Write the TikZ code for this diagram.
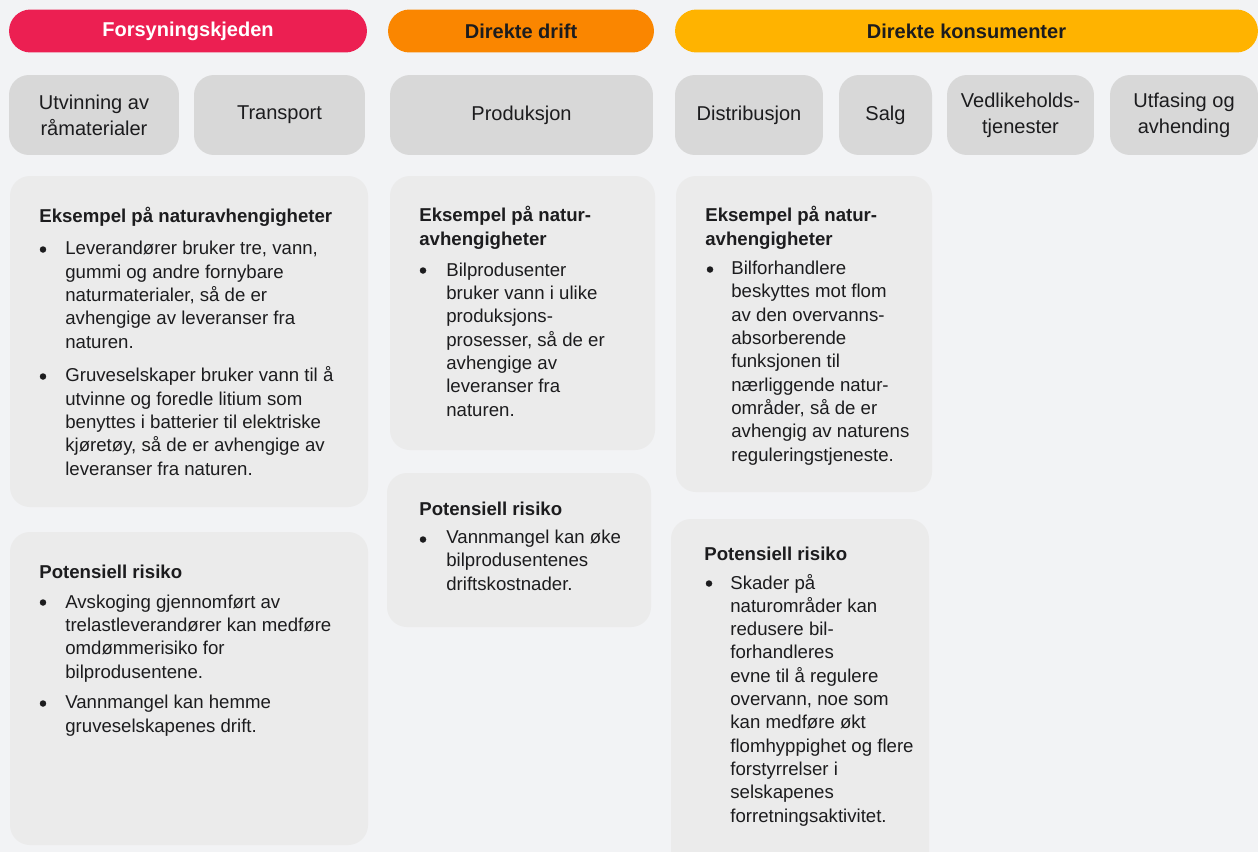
\documentclass[tikz,border=0pt]{standalone}
\usepackage{xcolor}
\usepackage{tikz}
\usepackage{fontspec}
\setmainfont{Liberation Sans}
\definecolor{kjedered}{HTML}{EC1F52}
\definecolor{driftorange}{HTML}{FA8600}
\definecolor{konsumyellow}{HTML}{FFB300}
\definecolor{pagegrey}{HTML}{F2F3F5}
\definecolor{stagegrey}{HTML}{D8D8D8}
\definecolor{boxgrey}{HTML}{EBEBEB}
\definecolor{inkdark}{HTML}{1C1C1E}
\tikzset{
  pill/.style={rounded corners=0.43cm,minimum height=0.86cm,inner sep=0pt,
    font=\bfseries\fontsize{11.4}{13}\selectfont},
  stagebox/.style={fill=stagegrey,rounded corners=0.4cm,minimum height=1.6cm,
    inner sep=0pt,align=center,text=inkdark,font=\fontsize{11.4}{14.8}\selectfont},
  infobox/.style={fill=boxgrey,rounded corners=0.4cm},
  boxtitle/.style={anchor=base west,align=left,inner sep=0pt,text=inkdark,
    font=\bfseries\fontsize{10.6}{13.26}\selectfont},
  itemtext/.style={anchor=base west,align=left,inner sep=0pt,text=inkdark,
    font=\fontsize{10.6}{13.26}\selectfont},
  itemdot/.style={circle,fill=inkdark,inner sep=0pt,minimum size=0.13cm,yshift=0.11cm}
}
\begin{document}
\begin{tikzpicture}[x=0.02cm,y=-0.02cm]
  \useasboundingbox (0,0) rectangle (1258,852);
  \fill[pagegrey] (0,0) rectangle (1258,852);

  \node[pill,fill=kjedered,text=white,minimum width=7.16cm] (forsyning) at (188,31) {Forsyningskjeden};
  \node[pill,fill=driftorange,text=inkdark,minimum width=5.32cm] (drift) at (521,31) {Direkte drift};
  \node[pill,fill=konsumyellow,text=inkdark,minimum width=11.66cm] (konsument) at (966.5,31) {Direkte konsumenter};

  \node[stagebox,minimum width=3.40cm] (utvinning) at (94,115) {Utvinning av\\råmaterialer};
  \node[stagebox,minimum width=3.42cm] (transport) at (279.5,115) {Transport};
  \node[stagebox,minimum width=5.26cm] (produksjon) at (521.5,115) {Produksjon};
  \node[stagebox,minimum width=2.96cm] (distribusjon) at (749,115) {Distribusjon};
  \node[stagebox,minimum width=1.86cm] (salg) at (885.5,115) {Salg};
  \node[stagebox,minimum width=2.94cm] (vedlikehold) at (1020.5,115) {Vedlikeholds-\\tjenester};
  \node[stagebox,minimum width=2.96cm] (utfasing) at (1184,115) {Utfasing og\\avhending};

  \fill[infobox] (10,176) rectangle (368,507);
  \fill[infobox] (10,532) rectangle (368,845);
  \fill[infobox] (390,176) rectangle (655,450);
  \fill[infobox] (387,473) rectangle (651,627);
  \fill[infobox] (676,176) rectangle (932,492);
  \fill[infobox] (671,519) rectangle (929,880);

  % multi-line nodes sit on the baseline of their last line
  \node[boxtitle] (eks-kjede) at (39,222) {Eksempel på naturavhengigheter};
  \node[itemdot] (eks-kjede-dot1) at (43,255) {};
  \node[itemtext] (eks-kjede-1) at (65,348) {Leverandører bruker tre, vann,\\gummi og andre fornybare\\naturmaterialer, så de er\\avhengige av leveranser fra\\naturen.};
  \node[itemdot] (eks-kjede-dot2) at (43,382) {};
  \node[itemtext] (eks-kjede-2) at (65,475) {Gruveselskaper bruker vann til å\\utvinne og foredle litium som\\benyttes i batterier til elektriske\\kjøretøy, så de er avhengige av\\leveranser fra naturen.};

  \node[boxtitle] (risk-kjede) at (39,578) {Potensiell risiko};
  \node[itemdot] (risk-kjede-dot1) at (43,608) {};
  \node[itemtext] (risk-kjede-1) at (65,678) {Avskoging gjennomført av\\trelastleverandører kan medføre\\omdømmerisiko for\\bilprodusentene.};
  \node[itemdot] (risk-kjede-dot2) at (43,709) {};
  \node[itemtext] (risk-kjede-2) at (65,732) {Vannmangel kan hemme\\gruveselskapenes drift.};

  \node[boxtitle] (eks-drift) at (419,245) {Eksempel på natur-\\avhengigheter};
  \node[itemdot] (eks-drift-dot1) at (423,276) {};
  \node[itemtext] (eks-drift-1) at (446,416) {Bilprodusenter\\bruker vann i ulike\\produksjons-\\prosesser, så de er\\avhengige av\\leveranser fra\\naturen.};

  \node[boxtitle] (risk-drift) at (419,515) {Potensiell risiko};
  \node[itemdot] (risk-drift-dot1) at (423,545) {};
  \node[itemtext] (risk-drift-1) at (446,590) {Vannmangel kan øke\\bilprodusentenes\\driftskostnader.};

  \node[boxtitle] (eks-konsum) at (705,245) {Eksempel på natur-\\avhengigheter};
  \node[itemdot] (eks-konsum-dot1) at (710,275) {};
  \node[itemtext] (eks-konsum-1) at (731,461) {Bilforhandlere\\beskyttes mot flom\\av den overvanns-\\absorberende\\funksjonen til\\nærliggende natur-\\områder, så de er\\avhengig av naturens\\reguleringstjeneste.};

  \node[boxtitle] (risk-konsum) at (704,560) {Potensiell risiko};
  \node[itemdot] (risk-konsum-dot1) at (709,589) {};
  \node[itemtext] (risk-konsum-1) at (730,822) {Skader på\\naturområder kan\\redusere bil-\\forhandleres\\evne til å regulere\\overvann, noe som\\kan medføre økt\\flomhyppighet og flere\\forstyrrelser i\\selskapenes\\forretningsaktivitet.};
\end{tikzpicture}
\end{document}
